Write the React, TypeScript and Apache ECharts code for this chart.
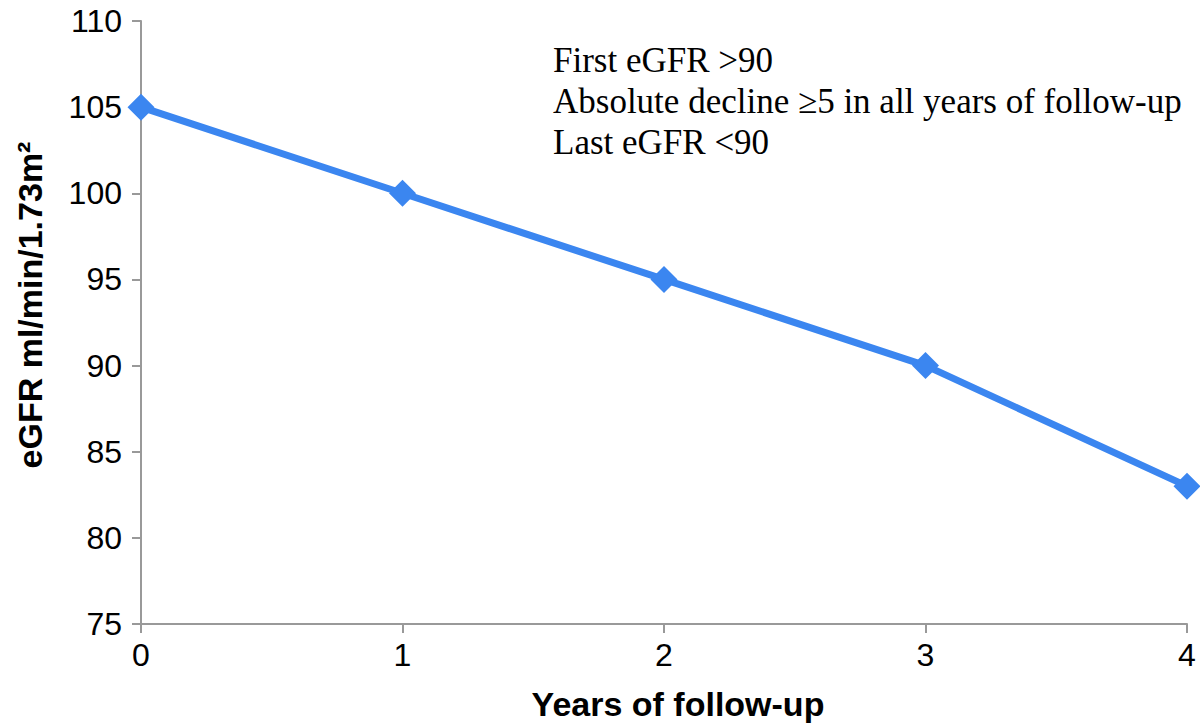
import React, { useEffect, useRef } from "react";
import * as echarts from "echarts";

const years = [0, 1, 2, 3, 4];
const egfr = [105, 100, 95, 90, 83];
const yTicks = { min: 75, max: 110, interval: 5 };
const noteLines = [
  "First eGFR >90",
  "Absolute decline \u22655 in all years of follow-up",
  "Last eGFR <90",
];
const xTitle = "Years of follow-up";
const yTitle = "eGFR ml/min/1.73m\u00b2";

export default function App() {
  const ref = useRef<HTMLDivElement>(null);
  useEffect(() => {
    if (!ref.current) return;
    const chart = echarts.init(ref.current, undefined, { renderer: "svg" });
    const axisColor = "#999999";
    chart.setOption({
      animation: false,
      backgroundColor: "#ffffff",
      grid: { left: 141, right: 13, top: 21, bottom: 101, containLabel: false },
      xAxis: {
        type: "value",
        min: 0,
        max: 4,
        interval: 1,
        axisLine: { show: true, lineStyle: { color: axisColor, width: 2 } },
        axisTick: { show: true, length: 9, lineStyle: { color: axisColor, width: 2 } },
        splitLine: { show: false },
        axisLabel: {
          color: "#000",
          fontSize: 32,
          fontFamily: "Liberation Sans",
          margin: 15,
        },
      },
      yAxis: {
        type: "value",
        min: yTicks.min,
        max: yTicks.max,
        interval: yTicks.interval,
        axisLine: { show: true, lineStyle: { color: axisColor, width: 2 } },
        axisTick: { show: true, length: 9, lineStyle: { color: axisColor, width: 2 } },
        splitLine: { show: false },
        axisLabel: {
          color: "#000",
          fontSize: 32,
          fontFamily: "Liberation Sans",
          margin: 19,
        },
      },
      series: [
        {
          type: "line",
          data: years.map((x, i) => [x, egfr[i]]),
          symbol: "diamond",
          symbolSize: 27,
          clip: false,
          lineStyle: { color: "#3b86f0", width: 7 },
          itemStyle: { color: "#3b86f0" },
        },
      ],
      graphic: [
        {
          type: "text",
          x: 678,
          y: 704,
          style: {
            text: xTitle,
            fill: "#000",
            font: "bold 34px 'Liberation Sans'",
            align: "center",
            verticalAlign: "middle",
          },
        },
        {
          type: "text",
          x: 30,
          y: 305,
          rotation: Math.PI / 2,
          style: {
            text: yTitle,
            fill: "#000",
            font: "bold 34px 'Liberation Sans'",
            align: "center",
            verticalAlign: "middle",
          },
        },
        ...noteLines.map((t, i) => ({
          type: "text",
          x: 553,
          y: 60 + i * 41,
          style: {
            text: t,
            fill: "#000",
            font: "35px 'Liberation Serif'",
            align: "left",
            verticalAlign: "middle",
          },
        })),
      ],
    });
    return () => chart.dispose();
  }, []);
  return (
    <div
      ref={ref}
      style={{ position: "fixed", left: 0, top: 0, width: 1200, height: 725 }}
    />
  );
}
